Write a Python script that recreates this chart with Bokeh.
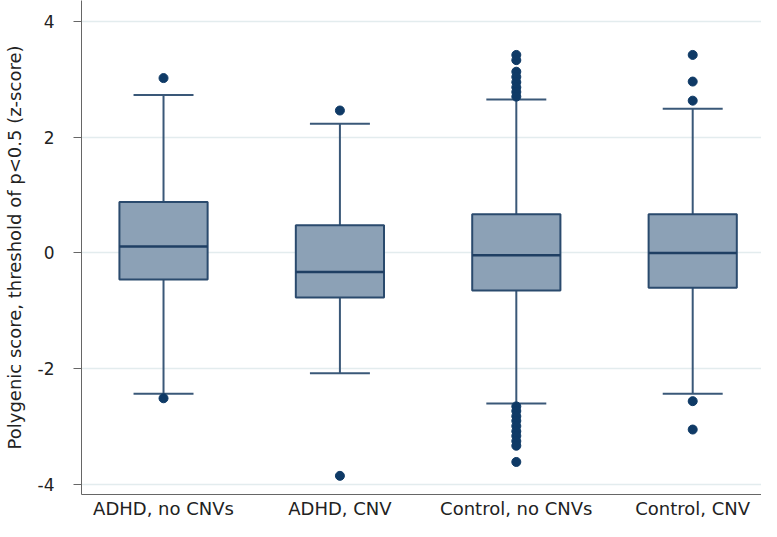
from bokeh.plotting import figure
from bokeh.models import FixedTicker, Range1d
from bokeh.embed import file_html
from bokeh.resources import INLINE

# ---- data ----
categories = ["ADHD, no CNVs", "ADHD, CNV", "Control, no CNVs", "Control, CNV"]
q1 = [-0.46, -0.77, -0.65, -0.60]
median = [0.11, -0.33, -0.04, 0.00]
q3 = [0.88, 0.48, 0.67, 0.67]
whisker_low = [-2.43, -2.08, -2.60, -2.43]
whisker_high = [2.73, 2.23, 2.65, 2.49]
outliers = [
    [3.02, -2.51],
    [2.46, -3.85],
    [3.42, 3.33, 3.13, 3.04, 2.95, 2.86, 2.78, 2.70,
     -2.65, -2.73, -2.82, -2.90, -2.99, -3.08, -3.16, -3.25, -3.33, -3.61],
    [3.42, 2.96, 2.63, -2.56, -3.05],
]
y_ticks = [-4, -2, 0, 2, 4]
y_tick_labels = ["-4", "-2", "0", "2", "4"]

FONT = "DejaVu Sans"
BOX_FILL = "#8ca1b6"
BOX_LINE = "#2a4a6d"
WHISK = "#3a5878"
DOT = "#0f3a66"

xs = [i + 1 for i in range(len(categories))]
box_w = 0.5
cap_w = 0.34

p = figure(width=761, height=521, output_backend="svg", toolbar_location=None,
           x_range=Range1d(0.535, 4.390), y_range=Range1d(-4.172, 4.36),
           min_border_left=81, min_border_right=0, min_border_top=0, min_border_bottom=24)
p.outline_line_color = None
p.background_fill_color = "white"

# whiskers
p.segment(x0=xs, y0=q3, x1=xs, y1=whisker_high, line_color=WHISK, line_width=2)
p.segment(x0=xs, y0=q1, x1=xs, y1=whisker_low, line_color=WHISK, line_width=2)
p.segment(x0=[x - cap_w / 2 for x in xs], y0=whisker_high,
          x1=[x + cap_w / 2 for x in xs], y1=whisker_high, line_color=WHISK, line_width=2)
p.segment(x0=[x - cap_w / 2 for x in xs], y0=whisker_low,
          x1=[x + cap_w / 2 for x in xs], y1=whisker_low, line_color=WHISK, line_width=2)

# boxes
p.vbar(x=xs, width=box_w, bottom=q1, top=q3, fill_color=BOX_FILL,
       line_color=BOX_LINE, line_width=2)
p.segment(x0=[x - box_w / 2 for x in xs], y0=median,
          x1=[x + box_w / 2 for x in xs], y1=median, line_color="#1f3f63", line_width=2.5)

# outliers
ox, oy = [], []
for x, vals in zip(xs, outliers):
    for v in vals:
        ox.append(x)
        oy.append(v)
p.scatter(x=ox, y=oy, size=9, fill_color=DOT, line_color=DOT)

# axes
p.xgrid.grid_line_color = None
p.ygrid.grid_line_color = "#e3ecee"
p.ygrid.grid_line_width = 1.5
p.yaxis.ticker = FixedTicker(ticks=y_ticks)
p.yaxis.major_label_overrides = {t: l for t, l in zip(y_ticks, y_tick_labels)}
p.xaxis.ticker = FixedTicker(ticks=xs)
p.xaxis.major_label_overrides = {x: c for x, c in zip(xs, categories)}

p.yaxis.axis_label = "Polygenic score, threshold of p<0.5 (z-score)"
p.yaxis.axis_label_text_font = FONT
p.yaxis.axis_label_text_font_size = "18px"
p.yaxis.axis_label_text_font_style = "normal"
p.yaxis.axis_label_text_color = "#222222"
p.yaxis.axis_label_standoff = 10
p.yaxis.major_label_text_font = FONT
p.yaxis.major_label_text_font_size = "17px"
p.yaxis.major_label_text_color = "#222222"
p.yaxis.major_label_standoff = 19
p.yaxis.major_tick_out = 8
p.yaxis.major_tick_in = 0
p.yaxis.minor_tick_line_color = None
p.yaxis.axis_line_color = "#666666"
p.yaxis.major_tick_line_color = "#666666"

p.xaxis.major_label_text_font = FONT
p.xaxis.major_label_text_font_size = "18px"
p.xaxis.major_label_text_color = "#222222"
p.xaxis.major_label_standoff = 3
p.xaxis.major_tick_out = 0
p.xaxis.major_tick_in = 0
p.xaxis.minor_tick_line_color = None
p.xaxis.axis_line_color = "#666666"

open("out.html", "w").write(file_html(p, INLINE))
